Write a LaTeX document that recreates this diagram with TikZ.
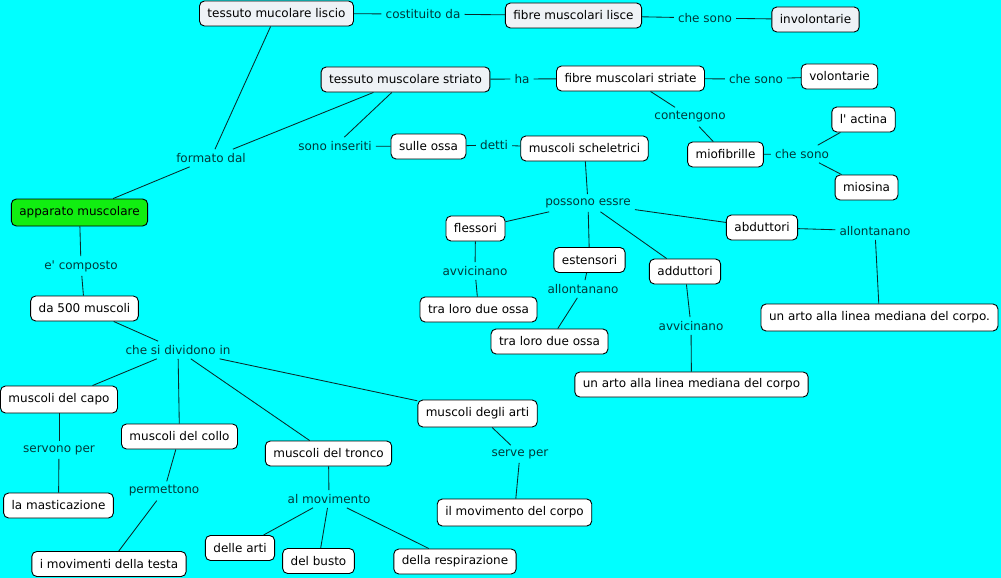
\documentclass[tikz,border=0pt]{standalone}
\usepackage{fontspec}
\setmainfont{DejaVu Sans}
\definecolor{bgcyan}{HTML}{00FFFF}
\definecolor{boxgray}{HTML}{EEF2F6}
\definecolor{boxgreen}{HTML}{11EE11}
\definecolor{labelcol}{HTML}{003A3A}
\definecolor{linecol}{HTML}{0A2A2A}
\begin{document}
\begin{tikzpicture}[x=1pt,y=-1pt,
  concept/.style={draw=black, line width=0.9pt, rounded corners=5pt, fill=white,
    inner xsep=8pt, inner ysep=0pt, minimum height=25pt,
    font=\fontsize{12}{14}\selectfont, text=black},
  gconcept/.style={concept, fill=boxgray},
  link/.style={font=\fontsize{12}{14}\selectfont, text=labelcol, inner xsep=4pt, inner ysep=4pt},
  conn/.style={draw=linecol, line width=0.85pt}]
\fill[bgcyan] (0,0) rectangle (1001,578);
\useasboundingbox (0,0) rectangle (1001,578);

% concepts and links
\node[gconcept] (tml) at (276.5,13.5) {tessuto mucolare liscio};
\node[link] (lcost) at (423,14) {costituito da};
\node[gconcept] (fml) at (573.5,15.5) {fibre muscolari lisce};
\node[link] (lcs1) at (705,18) {che sono};
\node[gconcept] (inv) at (815.5,19.5) {involontarie};
\node[gconcept] (tms) at (405.5,79.5) {tessuto muscolare striato};
\node[link] (lha) at (522,79) {ha};
\node[concept] (fms) at (630.5,78.5) {fibre muscolari striate};
\node[link] (lcs2) at (756,79) {che sono};
\node[concept] (vol) at (839.5,76.5) {volontarie};
\node[link] (lcont) at (690,117) {contengono};
\node[concept] (mio) at (725.5,154.5) {miofibrille};
\node[link] (lcs3) at (802,154) {che sono};
\node[concept] (act) at (863.5,119.5) {l\textquotesingle{} actina};
\node[concept] (mios) at (866.5,187.5) {miosina};
\node[link] (lsono) at (335,146) {sono inseriti};
\node[concept] (sul) at (428.5,146.5) {sulle ossa};
\node[link] (ldetti) at (494,145) {detti};
\node[concept] (msch) at (584.5,148.5) {muscoli scheletrici};
\node[link] (lform) at (211,158) {formato dal};
\node[concept, fill=boxgreen, minimum height=27pt] (app) at (79.5,212.5) {apparato muscolare};
\node[link] (lcomp) at (81,266) {e\textquotesingle{} composto};
\node[concept] (d500) at (84.5,308.5) {da 500 muscoli};
\node[link] (ldiv) at (178,350) {che si dividono in};
\node[concept, minimum height=27pt] (mcapo) at (59,399.5) {muscoli del capo};
\node[concept] (mcollo) at (179.5,436.5) {muscoli del collo};
\node[concept] (mtronco) at (328.5,453.5) {muscoli del tronco};
\node[concept, minimum height=27pt] (marti) at (477.5,413.5) {muscoli degli arti};
\node[link] (lserv) at (59,450) {servono per};
\node[concept] (mast) at (58.5,505.5) {la masticazione};
\node[link] (lperm) at (164,491) {permettono};
\node[concept] (mtesta) at (109,564) {i movimenti della testa};
\node[link] (lmov) at (329,499) {al movimento};
\node[concept] (darti) at (240,548) {delle arti};
\node[concept] (dbusto) at (318.5,561) {del busto};
\node[concept] (dresp) at (455,561.5) {della respirazione};
\node[link] (lservep) at (520,454) {serve per};
\node[concept, minimum height=27pt] (mcorpo) at (514.5,512.5) {il movimento del corpo};
\node[link] (lposs) at (588,203) {possono essre};
\node[concept] (fless) at (475.5,228.5) {flessori};
\node[concept] (est) at (589.5,260) {estensori};
\node[concept] (add) at (685,271.5) {adduttori};
\node[concept] (abd) at (762,227.5) {abduttori};
\node[link] (lallab) at (875,231) {allontanano};
\node[concept, minimum height=27pt] (arto1) at (879.5,317.5) {un arto alla linea mediana del corpo.};
\node[link] (lavvf) at (475,271) {avvicinano};
\node[concept] (tra1) at (478.5,309.5) {tra loro due ossa};
\node[link] (lallest) at (583,289) {allontanano};
\node[concept] (tra2) at (549.5,341.5) {tra loro due ossa};
\node[link] (lavva) at (691,326) {avvicinano};
\node[concept] (arto2) at (691.5,384.5) {un arto alla linea mediana del corpo};

% connectors
\draw[conn] (tml) -- (lcost);
\draw[conn] (lcost) -- (fml);
\draw[conn] (fml) -- (lcs1);
\draw[conn] (lcs1) -- (inv);
\draw[conn] (tms) -- (lha);
\draw[conn] (lha) -- (fms);
\draw[conn] (fms) -- (lcs2);
\draw[conn] (lcs2) -- (vol);
\draw[conn] (fms) -- (lcont);
\draw[conn] (lcont) -- (mio);
\draw[conn] (mio) -- (lcs3);
\draw[conn] (lcs3) -- (act);
\draw[conn] (lcs3) -- (mios);
\draw[conn] (tms) -- (lsono);
\draw[conn] (lsono) -- (sul);
\draw[conn] (sul) -- (ldetti);
\draw[conn] (ldetti) -- (msch);
\draw[conn] (tml) -- (lform);
\draw[conn] (tms) -- (lform);
\draw[conn] (lform) -- (app);
\draw[conn] (app) -- (lcomp);
\draw[conn] (lcomp) -- (d500);
\draw[conn] (d500) -- (ldiv);
\draw[conn] (ldiv) -- (mcapo);
\draw[conn] (ldiv) -- (mcollo);
\draw[conn] (ldiv) -- (mtronco);
\draw[conn] (ldiv) -- (marti);
\draw[conn] (mcapo) -- (lserv);
\draw[conn] (lserv) -- (mast);
\draw[conn] (mcollo) -- (lperm);
\draw[conn] (lperm) -- (mtesta);
\draw[conn] (mtronco) -- (lmov);
\draw[conn] (lmov) -- (darti);
\draw[conn] (lmov) -- (dbusto);
\draw[conn] (lmov) -- (dresp);
\draw[conn] (marti) -- (lservep);
\draw[conn] (lservep) -- (mcorpo);
\draw[conn] (msch) -- (lposs);
\draw[conn] (lposs) -- (fless);
\draw[conn] (lposs) -- (est);
\draw[conn] (lposs) -- (add);
\draw[conn] (lposs) -- (abd);
\draw[conn] (abd) -- (lallab);
\draw[conn] (lallab) -- (arto1);
\draw[conn] (fless) -- (lavvf);
\draw[conn] (lavvf) -- (tra1);
\draw[conn] (est) -- (lallest);
\draw[conn] (lallest) -- (tra2);
\draw[conn] (add) -- (lavva);
\draw[conn] (lavva) -- (arto2);
\end{tikzpicture}
\end{document}
